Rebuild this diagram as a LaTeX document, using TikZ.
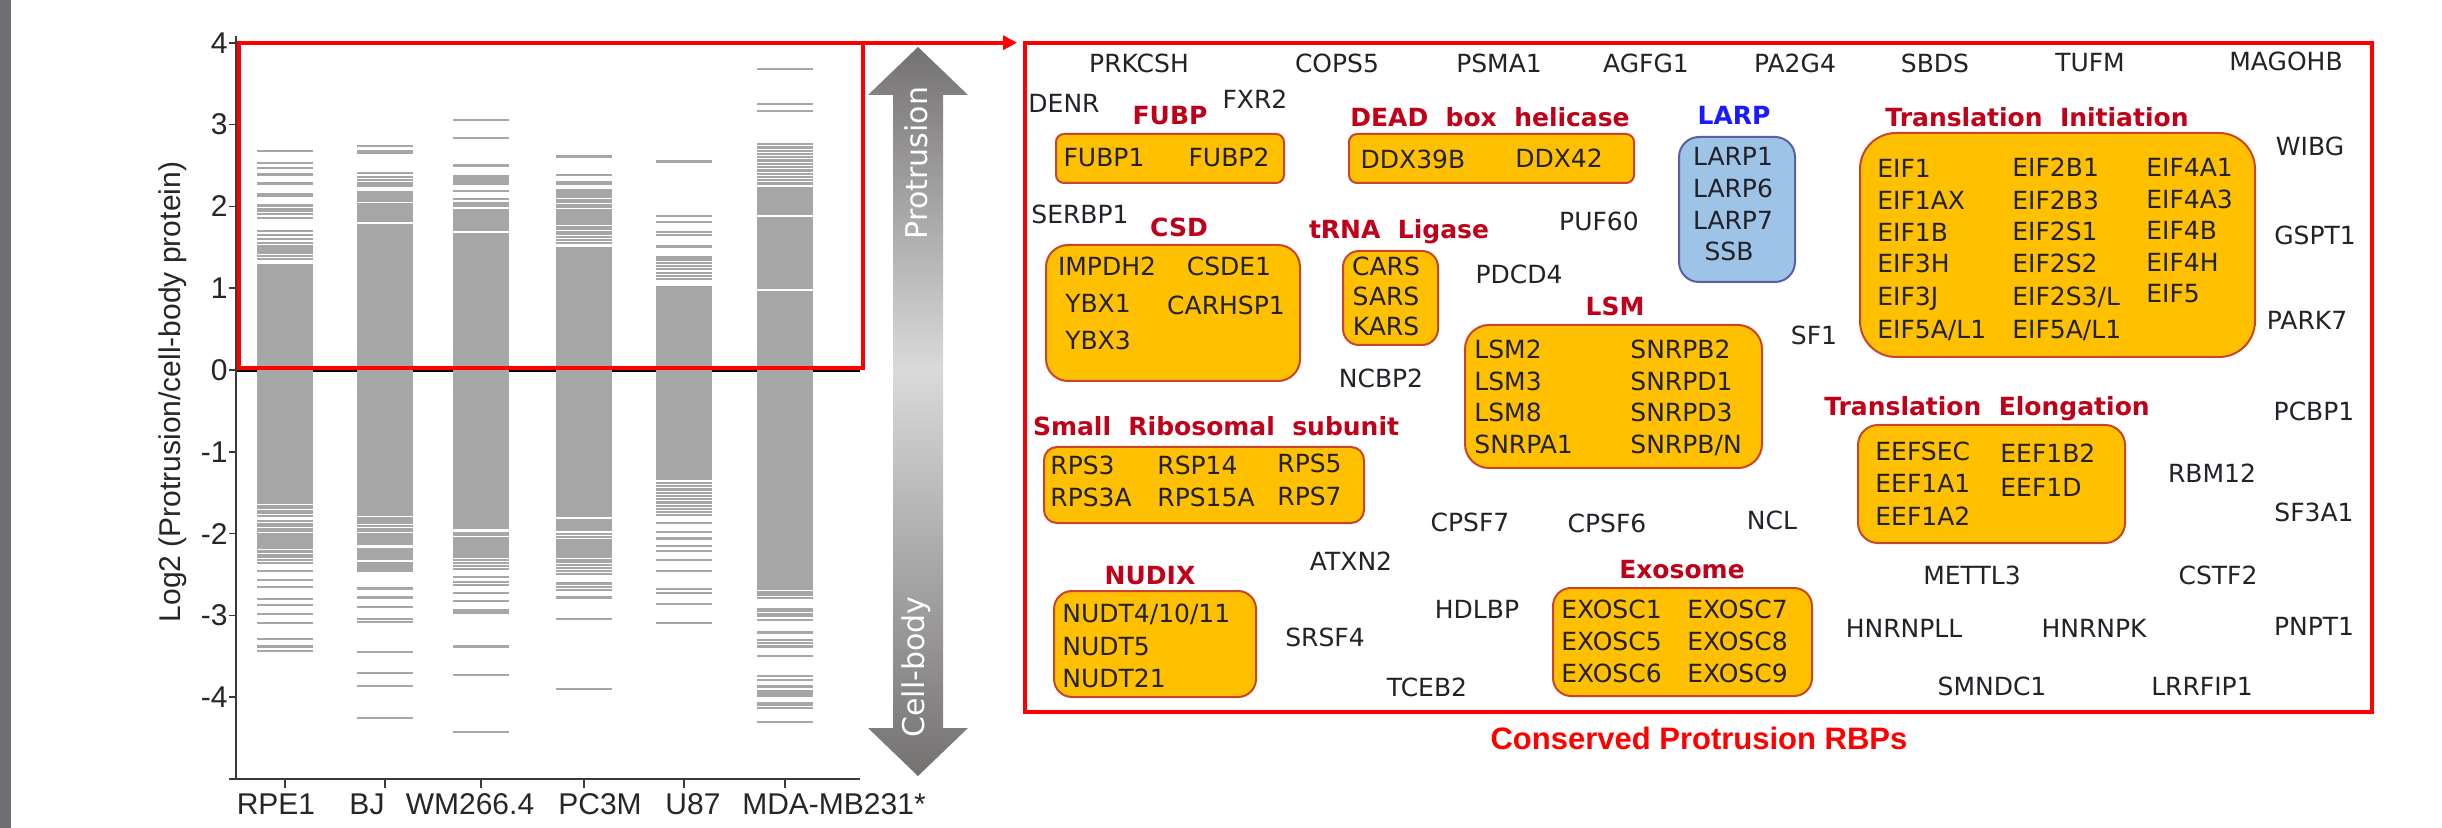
\documentclass[tikz,border=0pt]{standalone}
\usepackage{fontspec}
\setmainfont{DejaVu Sans}
\newfontfamily\arialf{Liberation Sans}
\usetikzlibrary{arrows.meta}

\definecolor{stripgray}{HTML}{6E6D72}
\definecolor{bargray}{HTML}{A6A6A6}
\definecolor{axisgray}{HTML}{3A3A3A}
\definecolor{boxfill}{HTML}{FFC000}
\definecolor{boxline}{HTML}{C8452C}
\definecolor{larpfill}{HTML}{9DC3E6}
\definecolor{larpline}{HTML}{5B5EA6}
\definecolor{titred}{HTML}{C00018}
\definecolor{larpblue}{HTML}{1A1AFF}
\definecolor{arrdark}{HTML}{747171}
\definecolor{arrlight}{HTML}{DADADA}
\definecolor{genetext}{HTML}{222228}

\newcommand\genefont{\fontsize{12.5}{15}\selectfont}
\newcommand\ttlfont{\fontsize{12.5}{15}\selectfont\bfseries}
\newcommand\axfont{\arialf\fontsize{15}{18}\selectfont}

% one column of the chart: solid block from #2 to #3 (log2 units), thin lines at #4
\newcommand\databar[4]{%
  \fill[bargray] (#1,{370-81.8*(#3)}) rectangle ({#1+56},{370-81.8*(#2)});
  \foreach \v in {#4} {\draw[bargray, line width=1.1pt] (#1,{370-81.8*\v}) -- ++(56,0);}
}
\newcommand\gapline[2]{\draw[white, line width=0.8pt] (#1,{370-81.8*(#2)}) -- ++(56,0);}

\tikzset{
  gene/.style={font=\genefont, text=genetext, inner sep=0pt, anchor=base},
  genew/.style={gene, anchor=base west},
  ttl/.style={font=\ttlfont, text=titred, inner sep=0pt, anchor=base},
  grp/.style={draw=boxline, fill=boxfill, line width=1pt},
  redframe/.style={draw=red, line width=2pt, inner sep=0pt, outer sep=0pt, anchor=north west},
  axlab/.style={font=\axfont, text=black!85, inner sep=0pt},
}

\begin{document}
\begin{tikzpicture}[x=0.5pt, y=-0.5pt]
\useasboundingbox (0,0) rectangle (2442,828);
\fill[white] (0,0) rectangle (2442,828);
\fill[stripgray] (0,0) rectangle (11,828);

% ---------- chart ----------
\draw[black, line width=1pt] (236,371) -- (860,371);

\databar{257}{-1.64}{1.30}{2.68,2.53,2.47,2.39,2.28,2.15,2.13,2.02,2.00,1.97,1.94,1.91,1.86,1.70,1.65,1.60,1.55,1.51,1.49,1.47,1.45,1.43,1.39,1.36,
  -1.66,-1.69,-1.72,-1.75,-1.78,-1.85,-1.88,-1.91,-1.94,-1.97,-2.00,-2.03,-2.06,-2.09,-2.12,-2.15,-2.18,-2.22,-2.26,-2.29,-2.32,-2.36,-2.46,-2.57,-2.65,-2.80,-2.87,-2.98,-3.09,-3.29,-3.38,-3.44}
\databar{357}{-1.78}{2.19}{2.74,2.68,2.66,2.41,2.36,2.32,2.28,2.25,
  -1.81,-1.84,-1.87,-1.91,-1.94,-1.97,-2.00,-2.03,-2.06,-2.09,-2.12,-2.19,-2.22,-2.25,-2.28,-2.31,-2.36,-2.39,-2.42,-2.45,-2.67,-2.78,-2.90,-3.04,-3.08,-3.45,-3.70,-3.86,-4.25}
\gapline{357}{2.05}\gapline{357}{1.80}
\databar{453}{-1.82}{1.97}{3.06,2.84,2.50,2.37,2.34,2.31,2.28,2.19,2.09,2.04,2.01,
  -1.84,-1.87,-1.90,-1.93,-1.99,-2.02,-2.05,-2.08,-2.11,-2.14,-2.17,-2.20,-2.23,-2.26,-2.29,-2.32,-2.36,-2.40,-2.43,-2.53,-2.59,-2.63,-2.73,-2.82,-2.94,-2.97,-3.38,-3.73,-4.43}
\gapline{453}{1.69}
\databar{556}{-1.80}{1.50}{2.61,2.38,2.30,2.28,2.20,2.17,2.14,2.11,2.08,2.05,2.02,1.99,1.96,1.93,1.90,1.87,1.84,1.81,1.78,1.75,1.72,1.69,1.66,1.63,1.59,1.55,
  -1.84,-1.87,-1.90,-1.93,-1.96,-2.00,-2.04,-2.08,-2.11,-2.14,-2.17,-2.20,-2.23,-2.26,-2.29,-2.32,-2.35,-2.38,-2.42,-2.46,-2.49,-2.61,-2.65,-2.69,-2.78,-3.04,-3.90}
\gapline{556}{1.53}
\databar{656}{-1.35}{1.03}{2.55,1.88,1.81,1.69,1.65,1.51,1.38,1.35,1.31,1.27,1.23,1.19,1.15,1.11,
  -1.38,-1.42,-1.46,-1.50,-1.54,-1.58,-1.62,-1.66,-1.70,-1.74,-1.77,-1.87,-1.98,-2.06,-2.15,-2.21,-2.32,-2.46,-2.68,-2.73,-2.86,-3.09}
\databar{757}{-2.69}{2.24}{3.68,3.25,3.17,2.76,2.72,2.68,2.64,2.60,2.56,2.52,2.48,2.44,2.40,2.36,2.32,2.28,
  -2.72,-2.75,-2.79,-2.92,-2.95,-2.98,-3.01,-3.06,-3.21,-3.30,-3.34,-3.38,-3.50,-3.74,-3.79,-3.87,-3.93,-3.96,-3.99,-4.07,-4.10,-4.13,-4.30}
\gapline{757}{1.88}\gapline{757}{0.98}

% axes
\draw[axisgray, line width=1pt] (236,36) -- (236,779) -- (860,779);
\foreach \v in {4,3,...,-5} {\draw[axisgray, line width=0.8pt] (229,{370-81.8*\v}) -- (236,{370-81.8*\v});}
\foreach \v in {4,3,2,1,0,-1,-2,-3,-4} {\node[axlab, anchor=east] (tick\v) at (228,{370-81.8*\v}) {\v};}
\foreach \c in {285,385,481,584,684,785} {\draw[axisgray, line width=0.8pt] (\c,779) -- (\c,788);}
\node[axlab, anchor=base] (lrpe) at (276,814) {RPE1};
\node[axlab, anchor=base] (lbj) at (367,814) {BJ};
\node[axlab, anchor=base] (lwm) at (470,814) {WM266.4};
\node[axlab, anchor=base] (lpc) at (600,814) {PC3M};
\node[axlab, anchor=base] (lu87) at (693,814) {U87};
\node[axlab, anchor=base] (lmda) at (834,814) {MDA-MB231*};
\node[axlab, rotate=90] (ytitle) at (173,392) {Log2 (Protrusion/cell-body protein)};

% shaded double arrow
\shade[top color=arrdark, bottom color=arrlight] (893,370) -- (893,95) -- (868,95) -- (918,47) -- (968,95) -- (943,95) -- (943,370) -- cycle;
\shade[top color=arrlight, bottom color=arrdark] (893,369) -- (893,728) -- (868,728) -- (918,776) -- (968,728) -- (943,728) -- (943,369) -- cycle;
\node[font=\fontsize{15}{18}\selectfont, text=white, rotate=90, inner sep=0pt] (protr) at (916,163) {Protrusion};
\node[font=\fontsize{15}{18}\selectfont, text=white, rotate=90, inner sep=0pt] (cbody) at (916,667) {Cell-body};

% selection frame and the panel it points to
\node[redframe, minimum width=312pt, minimum height=162.6pt] (sel) at (239,42.7) {};
\node[redframe, minimum width=673.5pt, minimum height=334.6pt] (panel) at (1025,42.7) {};
\draw[red, line width=2pt, -{Triangle[length=7pt,width=7pt]}] (sel.north east) -- ([xshift=-4pt]panel.north west);
\node[font=\arialf\fontsize{15.5}{18}\selectfont\bfseries, text=red, inner sep=0pt, anchor=base] (caption) at (1699,749) {Conserved Protrusion RBPs};

% ---------- group boxes ----------
\draw[grp, rounded corners=4pt] (1056,134) rectangle (1284,183);
\draw[grp, rounded corners=4pt] (1349,134) rectangle (1634,183);
\draw[grp, rounded corners=11pt] (1046,245) rectangle (1300,381);
\draw[grp, rounded corners=8pt] (1343,251) rectangle (1438,345);
\draw[draw=larpline, fill=larpfill, line width=1pt, rounded corners=10pt] (1679,137) rectangle (1795,282);
\draw[grp, rounded corners=12pt] (1465,325) rectangle (1762,468);
\draw[grp, rounded corners=18pt] (1860,133) rectangle (2255,357);
\draw[grp, rounded corners=10pt] (1858,425) rectangle (2125,543);
\draw[grp, rounded corners=6.5pt] (1044,447) rectangle (1364,523);
\draw[grp, rounded corners=9pt] (1054,591) rectangle (1256,697);
\draw[grp, rounded corners=9pt] (1553,588) rectangle (1812,696);

% ---------- group titles ----------
\node[ttl] (tfubp) at (1170,125) {FUBP};
\node[ttl] (tdead) at (1490,127) {DEAD\ \ box\ \ helicase};
\node[ttl, text=larpblue] (tlarp) at (1734,125) {LARP};
\node[ttl] (tti) at (2037,127) {Translation\ \ Initiation};
\node[ttl] (tcsd) at (1179,237) {CSD};
\node[ttl] (ttrna) at (1399,239) {tRNA\ \ Ligase};
\node[ttl] (tlsm) at (1615,316) {LSM};
\node[ttl] (tte) at (1987,416) {Translation\ \ Elongation};
\node[ttl] (tsrs) at (1216,436) {Small\ \ Ribosomal\ \ subunit};
\node[ttl] (tnudix) at (1150,584) {NUDIX};
\node[ttl] (texo) at (1682,578) {Exosome};

% ---------- genes ----------
\node[gene] (prkcsh) at (1139,73) {PRKCSH};
\node[gene] (cops5) at (1337,73) {COPS5};
\node[gene] (psma1) at (1499,73) {PSMA1};
\node[gene] (agfg1) at (1646,73) {AGFG1};
\node[gene] (pa2g4) at (1795,73) {PA2G4};
\node[gene] (sbds) at (1935,73) {SBDS};
\node[gene] (tufm) at (2090,72) {TUFM};
\node[gene] (magohb) at (2286,71) {MAGOHB};
\node[gene] (denr) at (1064,113) {DENR};
\node[gene] (fxr2) at (1255,109) {FXR2};
\node[gene] (fubp1) at (1104,167) {FUBP1};
\node[gene] (fubp2) at (1229,167) {FUBP2};
\node[gene] (ddx39b) at (1413,169) {DDX39B};
\node[gene] (ddx42) at (1559,168) {DDX42};
\node[gene] (larp1) at (1733,166) {LARP1};
\node[gene] (larp6) at (1733,198) {LARP6};
\node[gene] (larp7) at (1733,230) {LARP7};
\node[gene] (ssb) at (1729,261) {SSB};

\node[genew] (eif1) at (1877,178) {EIF1};
\node[genew] (eif1ax) at (1877,210) {EIF1AX};
\node[genew] (eif1b) at (1877,242) {EIF1B};
\node[genew] (eif3h) at (1877,273) {EIF3H};
\node[genew] (eif3j) at (1877,306) {EIF3J};
\node[genew] (eif5aa) at (1877,339) {EIF5A/L1};
\node[genew] (eif2b1) at (2012,177) {EIF2B1};
\node[genew] (eif2b3) at (2012,210) {EIF2B3};
\node[genew] (eif2s1) at (2012,241) {EIF2S1};
\node[genew] (eif2s2) at (2012,273) {EIF2S2};
\node[genew] (eif2s3) at (2012,306) {EIF2S3/L};
\node[genew] (eif5ab) at (2012,339) {EIF5A/L1};
\node[genew] (eif4a1) at (2146,177) {EIF4A1};
\node[genew] (eif4a3) at (2146,209) {EIF4A3};
\node[genew] (eif4b) at (2146,240) {EIF4B};
\node[genew] (eif4h) at (2146,272) {EIF4H};
\node[genew] (eif5) at (2146,303) {EIF5};

\node[gene] (wibg) at (2310,156) {WIBG};
\node[gene] (gspt1) at (2315,245) {GSPT1};
\node[gene] (park7) at (2307,330) {PARK7};
\node[gene] (pcbp1) at (2314,421) {PCBP1};

\node[gene] (serbp1) at (1080,224) {SERBP1};
\node[gene] (impdh2) at (1107,276) {IMPDH2};
\node[gene] (csde1) at (1229,276) {CSDE1};
\node[gene] (ybx1) at (1098,313) {YBX1};
\node[gene] (carhsp1) at (1226,315) {CARHSP1};
\node[gene] (ybx3) at (1098,350) {YBX3};
\node[gene] (cars) at (1386,276) {CARS};
\node[gene] (sars) at (1386,306) {SARS};
\node[gene] (kars) at (1386,336) {KARS};
\node[gene] (puf60) at (1599,231) {PUF60};
\node[gene] (pdcd4) at (1519,284) {PDCD4};
\node[gene] (ncbp2) at (1381,388) {NCBP2};
\node[gene] (sf1) at (1814,345) {SF1};

\node[genew] (lsm2) at (1474,359) {LSM2};
\node[genew] (lsm3) at (1474,391) {LSM3};
\node[genew] (lsm8) at (1474,422) {LSM8};
\node[genew] (snrpa1) at (1474,454) {SNRPA1};
\node[genew] (snrpb2) at (1630,359) {SNRPB2};
\node[genew] (snrpd1) at (1630,391) {SNRPD1};
\node[genew] (snrpd3) at (1630,422) {SNRPD3};
\node[genew] (snrpbn) at (1630,454) {SNRPB/N};

\node[genew] (eefsec) at (1875,461) {EEFSEC};
\node[genew] (eef1a1) at (1875,493) {EEF1A1};
\node[genew] (eef1a2) at (1875,525) {EEF1A2};
\node[genew] (eef1b2) at (2000,463) {EEF1B2};
\node[genew] (eef1d) at (2000,496) {EEF1D};
\node[gene] (rbm12) at (2212,483) {RBM12};
\node[gene] (sf3a1) at (2314,522) {SF3A1};

\node[genew] (rps3) at (1050,475) {RPS3};
\node[genew] (rps3a) at (1050,507) {RPS3A};
\node[genew] (rsp14) at (1157,475) {RSP14};
\node[genew] (rps15a) at (1157,507) {RPS15A};
\node[genew] (rps5) at (1277,473) {RPS5};
\node[genew] (rps7) at (1277,506) {RPS7};

\node[gene] (cpsf7) at (1470,531) {CPSF7};
\node[gene] (cpsf6) at (1607,532) {CPSF6};
\node[gene] (ncl) at (1772,530) {NCL};
\node[gene] (atxn2) at (1351,570) {ATXN2};

\node[genew] (nudt4) at (1062,622) {NUDT4/10/11};
\node[genew] (nudt5) at (1062,655) {NUDT5};
\node[genew] (nudt21) at (1062,687) {NUDT21};
\node[gene] (srsf4) at (1325,646) {SRSF4};
\node[gene] (hdlbp) at (1477,618) {HDLBP};
\node[gene] (tceb2) at (1427,696) {TCEB2};

\node[genew] (exosc1) at (1561,618) {EXOSC1};
\node[genew] (exosc5) at (1561,650) {EXOSC5};
\node[genew] (exosc6) at (1561,682) {EXOSC6};
\node[genew] (exosc7) at (1687,618) {EXOSC7};
\node[genew] (exosc8) at (1687,650) {EXOSC8};
\node[genew] (exosc9) at (1687,682) {EXOSC9};

\node[gene] (mettl3) at (1972,584) {METTL3};
\node[gene] (cstf2) at (2218,584) {CSTF2};
\node[gene] (hnrnpll) at (1904,637) {HNRNPLL};
\node[gene] (hnrnpk) at (2094,637) {HNRNPK};
\node[gene] (pnpt1) at (2314,635) {PNPT1};
\node[gene] (smndc1) at (1992,695) {SMNDC1};
\node[gene] (lrrfip1) at (2202,695) {LRRFIP1};
\end{tikzpicture}
\end{document}
